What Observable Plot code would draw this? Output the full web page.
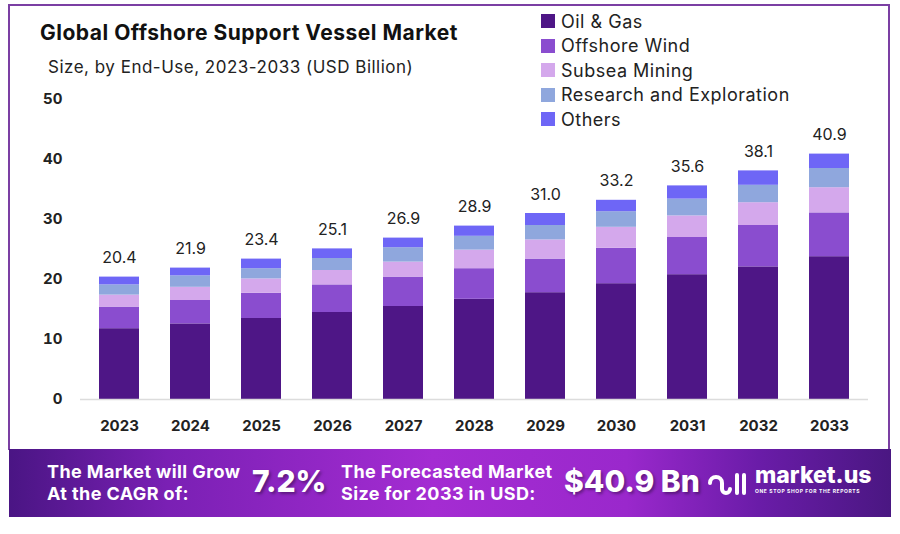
<!DOCTYPE html>
<html>
<head>
<meta charset="utf-8">
<script src="https://cdn.jsdelivr.net/npm/d3@7"></script>
<script src="https://cdn.jsdelivr.net/npm/@observablehq/plot@0.6"></script>
<style>
  body { margin: 0; background: #fff; font-family: Inter, "Open Sans", sans-serif; }
  #wrap { position: relative; width: 900px; height: 534px; background: #fff; overflow: hidden; }
  #frame { position: absolute; left: 8px; top: 4px; width: 882px; height: 446px; border: 2px solid #7b3fa3; border-bottom: none; box-sizing: border-box; }
  #title { position: absolute; left: 40px; top: 20px; font-size: 21px; font-weight: 700; color: #111; letter-spacing: 0.5px; }
  #subtitle { position: absolute; left: 48px; top: 57px; font-size: 17px; color: #222; letter-spacing: 0.5px; }
  #legend { position: absolute; left: 541px; top: 9px; }
  .li { display: flex; align-items: center; height: 24.5px; font-size: 18px; color: #222; letter-spacing: 0.5px; }
  .sw { width: 14px; height: 14px; margin-right: 6px; }
  #chart { position: absolute; left: 0; top: 0; }
  #banner { position: absolute; left: 9px; top: 449px; width: 882px; height: 68px;
    background: linear-gradient(90deg, #4a1584 0%, #7a20b4 18%, #a42cd2 48%, #9a28cc 70%, #6a1ca8 85%, #4a1782 100%);
    color: #fff; font-weight: 700; }
  .bt { position: absolute; font-size: 18px; line-height: 22px; letter-spacing: 0.4px; }
  .big { position: absolute; font-size: 30px; font-weight: 800; text-shadow: 2px 2px 3px rgba(0,0,0,0.35); }
  #logo { position: absolute; left: 746px; top: 14px; font-size: 23px; font-weight: 800; line-height: 24px; }
  #logo small { display: block; font-size: 5px; letter-spacing: 0.6px; line-height: 8px; font-weight: 700; }
</style>
</head>
<body>
<div id="wrap">
  <div id="chart"></div>
  <div id="frame"></div>
  <div id="title">Global Offshore Support Vessel Market</div>
  <div id="subtitle">Size, by End-Use, 2023-2033 (USD Billion)</div>
  <div id="legend"></div>
  <div id="banner">
    <div class="bt" style="left:38px; top:12px;">The Market will Grow<br>At the CAGR of:</div>
    <div class="big" style="left:243px; top:14px;">7.2%</div>
    <div class="bt" style="left:332px; top:12px;">The Forecasted Market<br>Size for 2033 in USD:</div>
    <div class="big" style="left:555px; top:14px;">$40.9 Bn</div>
    <svg style="position:absolute; left:698px; top:20px;" width="42" height="30" viewBox="0 0 42 30">
      <path d="M3 14 a6 6 0 0 1 12 0 v6 a4 4 0 0 0 8 0" fill="none" stroke="#fff" stroke-width="4" stroke-linecap="round"/>
      <line x1="30" y1="6" x2="30" y2="24" stroke="#fff" stroke-width="4" stroke-linecap="round"/>
      <line x1="37" y1="6" x2="37" y2="24" stroke="#fff" stroke-width="4" stroke-linecap="round"/>
    </svg>
    <div id="logo">market.us<small>ONE STOP SHOP FOR THE REPORTS</small></div>
  </div>
</div>
<script>
const years = ["2023","2024","2025","2026","2027","2028","2029","2030","2031","2032","2033"];
const segments = ["Oil & Gas","Offshore Wind","Subsea Mining","Research and Exploration","Others"];
const colors = ["#4e1686","#8a4dcf","#d4a8ec","#8fa7dd","#6e66f6"];
const oilGas       = [11.8, 12.6, 13.5, 14.5, 15.5, 16.7, 17.8, 19.3, 20.8, 22.1, 23.8];
const offshoreWind = [3.6, 3.9, 4.2, 4.6, 4.9, 5.1, 5.6, 5.9, 6.2, 6.9, 7.3];
const subseaMining = [2.0, 2.2, 2.4, 2.4, 2.5, 3.1, 3.2, 3.5, 3.6, 3.8, 4.2];
const research     = [1.7, 1.9, 1.7, 2.0, 2.4, 2.3, 2.4, 2.6, 2.8, 2.9, 3.2];
const others       = [1.3, 1.3, 1.6, 1.6, 1.6, 1.7, 2.0, 1.9, 2.2, 2.4, 2.4];
const totals       = [20.4, 21.9, 23.4, 25.1, 26.9, 28.9, 31.0, 33.2, 35.6, 38.1, 40.9];
const yTicks = [0, 10, 20, 30, 40, 50];

const series = [oilGas, offshoreWind, subseaMining, research, others];
const rows = [];
years.forEach((y, i) => segments.forEach((s, j) => rows.push({year: y, segment: s, value: series[j][i]})));
const totalRows = years.map((y, i) => ({year: y, total: totals[i]}));

const chart = Plot.plot({
  width: 900,
  height: 450,
  marginTop: 99,
  marginBottom: 51,
  marginLeft: 80,
  marginRight: 32,
  style: {background: "transparent", fontFamily: "Inter, 'Open Sans', sans-serif", color: "#222"},
  x: {domain: years, paddingInner: 0.44, paddingOuter: 0.24},
  y: {domain: [0, 50]},
  color: {domain: segments, range: colors},
  marks: [
    Plot.barY(rows, {x: "year", y: "value", fill: "segment"}),
    Plot.ruleY([0], {stroke: "#dcdcdc", strokeWidth: 1.5}),
    Plot.text(totalRows, {x: "year", y: "total", text: d => d.total.toFixed(1), dy: -14, lineAnchor: "bottom", fontSize: 16, fill: "#222", letterSpacing: "0.3px"}),
    Plot.axisY({ticks: yTicks, tickSize: 0, tickPadding: 18, label: null, fontSize: 15, fontWeight: "bold", fill: "#222"}),
    Plot.axisX({tickSize: 0, tickPadding: 21, label: null, fontSize: 15, fontWeight: "bold", fill: "#222", letterSpacing: "0.5px"})
  ]
});
document.getElementById("chart").appendChild(chart);

const legend = document.getElementById("legend");
segments.forEach((s, i) => {
  const row = document.createElement("div");
  row.className = "li";
  row.innerHTML = `<span class="sw" style="background:${colors[i]}"></span><span>${s}</span>`;
  legend.appendChild(row);
});
</script>
</body>
</html>
